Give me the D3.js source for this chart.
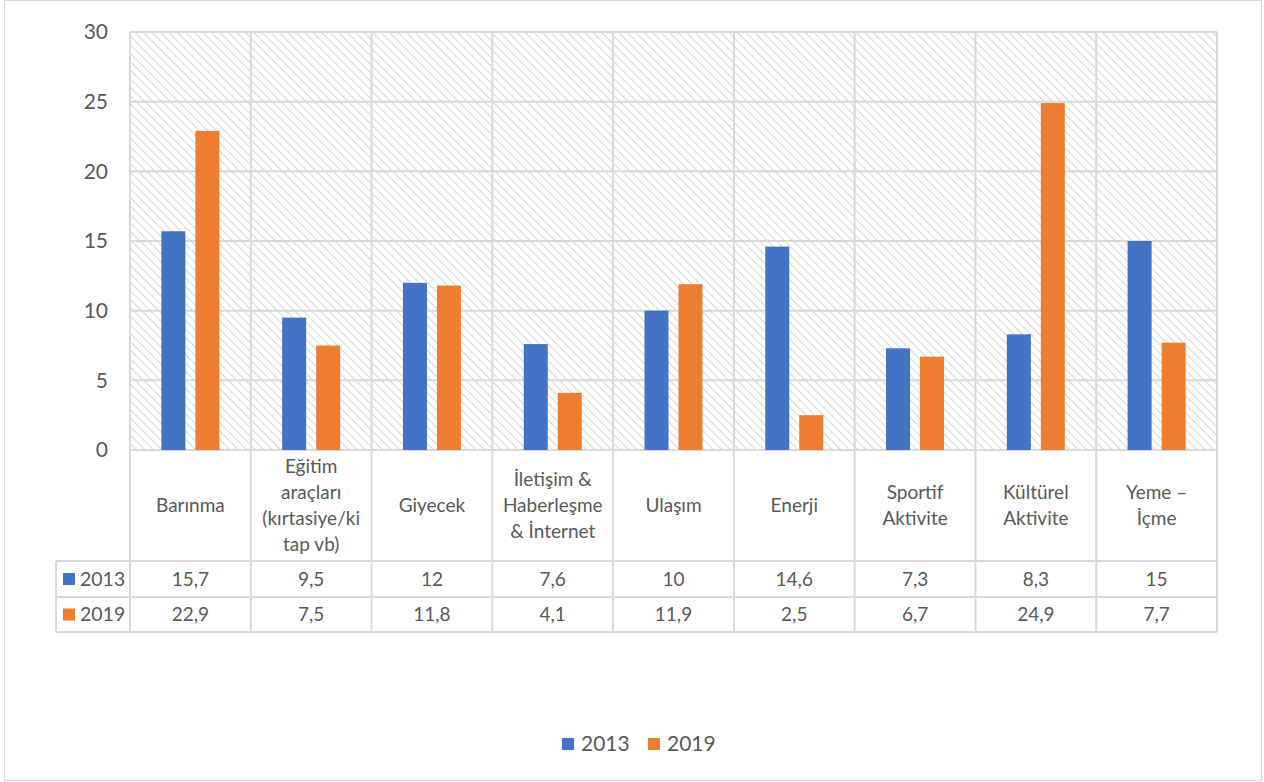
<html>
  <head>
    <meta charset="utf-8">
    <script src="https://cdn.jsdelivr.net/npm/d3@7/dist/d3.min.js"></script>
    <style>
      body { margin: 0; background: #fff; }
      text { font-family: Lato, "Open Sans", sans-serif; fill: #595959; }
    </style>
  </head>
  <body>
    <div id="main"></div>
  <script>
    // chart data
    var categories = [
      ["Barınma"],
      ["Eğitim", "araçları", "(kırtasiye/ki", "tap vb)"],
      ["Giyecek"],
      ["İletişim &", "Haberleşme", "& İnternet"],
      ["Ulaşım"],
      ["Enerji"],
      ["Sportif", "Aktivite"],
      ["Kültürel", "Aktivite"],
      ["Yeme –", "İçme"]
    ];
    var seriesNames = ["2013", "2019"];
    var values2013 = [15.7, 9.5, 12, 7.6, 10, 14.6, 7.3, 8.3, 15];
    var values2019 = [22.9, 7.5, 11.8, 4.1, 11.9, 2.5, 6.7, 24.9, 7.7];
    var yTicks = [0, 5, 10, 15, 20, 25, 30];
    var colors = ["#4472C4", "#ED7D31"];

    var svgWidth = 1264, svgHeight = 782;
    // plot box (don't call it "top", window.top is taken)
    var plotL = 130, plotR = 1217, plotT = 32, plotB = 450;
    var gridColor = "#d9d9d9";

    var svg = d3.select("#main").append("svg")
      .attr("width", svgWidth)
      .attr("height", svgHeight);

    // outer chart border
    svg.append("rect")
      .attr("x", 4.5).attr("y", 0.5)
      .attr("width", 1257).attr("height", 780)
      .style("fill", "none").style("stroke", "#d9d9d9");

    // hatch pattern for plot background
    var pat = svg.append("defs").append("pattern")
      .attr("id", "hatch")
      .attr("patternUnits", "userSpaceOnUse")
      .attr("width", 6).attr("height", 6)
      .attr("patternTransform", "rotate(-45)");
    pat.append("line")
      .attr("x1", 0).attr("y1", 0).attr("x2", 0).attr("y2", 6)
      .style("stroke", "#d6d6d6").style("stroke-width", 2);

    var x = d3.scaleBand()
      .domain(d3.range(categories.length))
      .range([plotL, plotR]);
    var y = d3.scaleLinear().domain([0, 30]).range([plotB, plotT]);

    svg.append("rect")
      .attr("x", plotL).attr("y", plotT)
      .attr("width", plotR - plotL).attr("height", plotB - plotT)
      .style("fill", "url(#hatch)");

    // horizontal gridlines
    svg.selectAll("line.hgrid")
      .data(yTicks)
      .enter().append("line")
      .attr("class", "hgrid")
      .attr("x1", plotL).attr("x2", plotR)
      .attr("y1", function(d) { return y(d); })
      .attr("y2", function(d) { return y(d); })
      .style("stroke", gridColor).style("stroke-width", 2);

    // vertical gridlines (plot + category header of table)
    var tableRow1 = 561, tableRow2 = 597, tableBottom = 632, tableLeft = 56;
    var bounds = d3.range(categories.length + 1).map(function(i) {
      return i < categories.length ? x(i) : plotR;
    });
    svg.selectAll("line.vgrid")
      .data(bounds)
      .enter().append("line")
      .attr("class", "vgrid")
      .attr("x1", function(d) { return d; })
      .attr("x2", function(d) { return d; })
      .attr("y1", plotT).attr("y2", tableBottom)
      .style("stroke", gridColor).style("stroke-width", 2);

    // table horizontal lines
    [tableRow1, tableRow2, tableBottom].forEach(function(yy) {
      svg.append("line")
        .attr("x1", tableLeft).attr("x2", plotR)
        .attr("y1", yy).attr("y2", yy)
        .style("stroke", gridColor).style("stroke-width", 2);
    });
    svg.append("line")
      .attr("x1", tableLeft).attr("x2", tableLeft)
      .attr("y1", tableRow1).attr("y2", tableBottom)
      .style("stroke", gridColor).style("stroke-width", 2);

    // y axis labels
    svg.selectAll("text.ytick")
      .data(yTicks)
      .enter().append("text")
      .attr("class", "ytick")
      .attr("x", 108)
      .attr("y", function(d) { return y(d); })
      .attr("dy", "0.35em")
      .attr("text-anchor", "end")
      .style("font-size", "21px")
      .text(function(d) { return d; });

    // bars
    var barW = 24, gap = 10;
    var allSeries = [values2013, values2019];
    allSeries.forEach(function(vals, s) {
      svg.selectAll("rect.bar" + s)
        .data(vals)
        .enter().append("rect")
        .attr("class", "bar" + s)
        .attr("x", function(d, i) {
          var c = x(i) + x.bandwidth() / 2;
          return s === 0 ? c - gap / 2 - barW : c + gap / 2;
        })
        .attr("y", function(d) { return y(d); })
        .attr("width", barW)
        .attr("height", function(d) { return y(0) - y(d); })
        .style("fill", colors[s]);
    });

    // category labels in table header
    var lineH = 26;
    categories.forEach(function(lines, i) {
      var cx = x(i) + x.bandwidth() / 2;
      var cy = (plotB + tableRow1) / 2;
      var t = svg.append("text")
        .attr("x", cx)
        .attr("text-anchor", "middle")
        .style("font-size", "19px");
      lines.forEach(function(l, k) {
        t.append("tspan")
          .attr("x", cx)
          .attr("y", cy + (k - (lines.length - 1) / 2) * lineH)
          .attr("dy", "0.35em")
          .text(l);
      });
    });

    // table values
    function fmt(v) { return String(v).replace(".", ","); }
    var rowMid = [(tableRow1 + tableRow2) / 2, (tableRow2 + tableBottom) / 2];
    allSeries.forEach(function(vals, s) {
      svg.append("rect")
        .attr("x", 63).attr("y", rowMid[s] - 6)
        .attr("width", 12).attr("height", 12)
        .style("fill", colors[s]);
      svg.append("text")
        .attr("x", 80).attr("y", rowMid[s])
        .attr("dy", "0.35em")
        .style("font-size", "19.5px")
        .text(seriesNames[s]);
      svg.selectAll("text.val" + s)
        .data(vals)
        .enter().append("text")
        .attr("class", "val" + s)
        .attr("x", function(d, i) { return x(i) + x.bandwidth() / 2; })
        .attr("y", rowMid[s])
        .attr("dy", "0.35em")
        .attr("text-anchor", "middle")
        .style("font-size", "19px")
        .text(fmt);
    });

    // legend
    var legendX = [562, 648];
    seriesNames.forEach(function(name, s) {
      svg.append("rect")
        .attr("x", legendX[s]).attr("y", 738)
        .attr("width", 12).attr("height", 12)
        .style("fill", colors[s]);
      svg.append("text")
        .attr("x", legendX[s] + 19).attr("y", 744)
        .attr("dy", "0.35em")
        .style("font-size", "21px")
        .text(name);
    });
  </script>
  </body>
</html>
